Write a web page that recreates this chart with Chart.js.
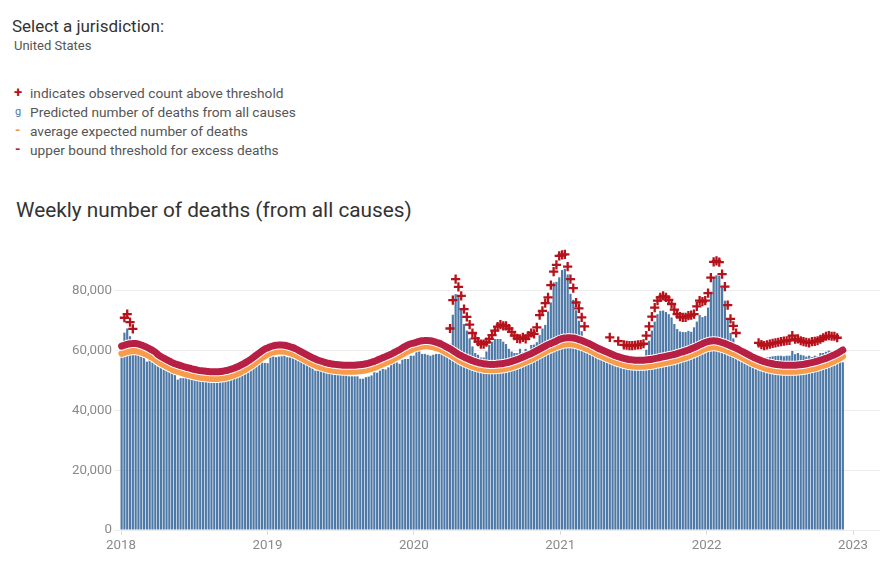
<!DOCTYPE html>
<html><head><meta charset="utf-8">
<script src="https://cdn.jsdelivr.net/npm/chart.js@4.4.0/dist/chart.umd.min.js"></script>
<style>
body{margin:0;width:892px;height:572px;background:#fff;font-family:Roboto,"Noto Sans",sans-serif;position:relative;overflow:hidden}
.t{position:absolute;white-space:nowrap}
#wrap{position:absolute;left:0;top:235px;width:892px;height:337px}
</style></head><body>
<div class="t" style="left:12px;top:15px;font-size:17px;line-height:22px;color:#333">Select a jurisdiction:</div>
<div class="t" style="left:14px;top:37px;font-size:13px;line-height:17px;color:#555">United States</div>
<div class="t" style="left:14px;top:83px;font-size:15px;line-height:19px;color:#b5121b;font-weight:bold">+</div>
<div class="t" style="left:30px;top:83.5px;font-size:13.7px;line-height:19px;color:#555">indicates observed count above threshold</div>
<div class="t" style="left:15px;top:102px;font-size:11px;line-height:19px;color:#4e79a7">g</div>
<div class="t" style="left:30px;top:102.5px;font-size:13.7px;line-height:19px;color:#555">Predicted number of deaths from all causes</div>
<div class="t" style="left:15px;top:121px;font-size:14px;line-height:19px;color:#f89c4b;font-weight:bold">-</div>
<div class="t" style="left:30px;top:121.5px;font-size:13.7px;line-height:19px;color:#555">average expected number of deaths</div>
<div class="t" style="left:15px;top:140px;font-size:14px;line-height:19px;color:#b81f44;font-weight:bold">-</div>
<div class="t" style="left:30px;top:140.5px;font-size:13.7px;line-height:19px;color:#555">upper bound threshold for excess deaths</div>
<div class="t" style="left:16px;top:197px;font-size:20.8px;line-height:26px;color:#333">Weekly number of deaths (from all causes)</div>
<div id="wrap"><canvas id="c" width="892" height="337"></canvas></div>
<script>
// Weekly series, first week ending 2018-01-06, one value per week
const firstWeekEnding = '2018-01-06';
const predictedDeaths = [
61000,66000,67400,64800,62800,59700,59400,58900,57800,56300,57200,56100,55600,54800,54800,53700,53500,53000,52800,52200,
50300,50800,50800,51300,51200,51000,51000,50600,50400,50200,50000,50000,49800,49700,50000,49800,49800,50000,50600,50500,
50800,51300,51700,52400,52600,53000,53700,54500,55600,56700,56500,55900,
55800,58000,58100,57800,58000,58100,58600,57800,57800,57800,57400,56700,56300,55600,55600,55200,54400,53300,53700,53300,
53300,53300,52200,52400,52400,52000,52000,52000,51800,51400,51400,51400,51400,50600,50600,51100,51300,51700,52800,52600,
53300,53900,53700,54400,55600,55900,56100,55600,57000,57200,57200,58300,
58300,59700,60300,58900,58900,58600,58300,58600,58900,58900,59200,58600,59000,62300,72000,78900,78300,73900,68900,66700,
64100,61400,59200,58600,57700,57700,59700,61900,63000,63900,63900,63900,63000,62200,60600,59700,59200,59200,60600,59400,
60600,60100,61900,62000,62800,65200,67400,68600,73100,76100,82800,83000,
84500,87000,87400,85500,79000,77000,73500,70000,66500,64000,62500,61500,61000,60800,60500,60200,59700,59300,60100,58600,
58100,59000,57600,57800,57900,57500,57300,57200,57200,57400,58000,60300,63300,66700,69700,72200,73300,73400,72900,72200,
71100,68900,67200,66400,66200,66200,66600,66300,67800,69700,71900,71200,
71600,74400,79700,84400,85200,85000,81100,76700,70600,65900,64100,61700,60000,59300,58600,57600,56500,55600,55800,58000,
57600,57500,57700,57900,58100,58200,58300,58300,58100,58300,58300,59900,58800,59200,58600,58400,58000,58300,57800,58300,
58200,59200,59200,59600,60000,59800,59800,59500,59000,56100
];
const expectedDeaths = [
59000,59300,59600,59800,59900,59900,59700,59400,59000,58600,58100,57600,57000,56300,55700,55200,54700,54200,53700,53300,
53000,52700,52400,52100,51900,51600,51400,51200,51000,50900,50800,50700,50600,50600,50600,50700,50800,51000,51200,51500,
51800,52200,52600,53100,53600,54200,54800,55500,56200,56900,57600,58200,
58800,59200,59500,59700,59800,59800,59700,59500,59200,58900,58500,58000,57500,57000,56500,56000,55500,55100,54700,54400,
54100,53800,53600,53400,53300,53200,53100,53000,53000,53000,53000,53000,53100,53200,53300,53500,53700,54000,54300,54700,
55100,55500,55900,56300,56700,57200,57700,58200,58800,59300,59800,60200,
60600,60900,61200,61400,61500,61500,61400,61200,60900,60600,60200,59700,59200,58700,58100,57500,56900,56400,55900,55500,
55100,54700,54400,54100,53900,53700,53600,53500,53500,53500,53600,53700,53800,54000,54200,54500,54800,55100,55500,55900,
56300,56700,57100,57600,58100,58600,59100,59600,60100,60500,60900,61300,
61600,61900,62100,62200,62200,62100,61900,61600,61300,60900,60500,60100,59600,59100,58600,58200,57800,57400,57000,56600,
56200,55900,55600,55300,55100,54900,54800,54700,54700,54700,54700,54800,54900,55000,55200,55400,55600,55800,56000,56200,
56400,56600,56900,57200,57500,57800,58100,58500,58900,59300,59800,60200,
60600,60900,61100,61200,61100,60900,60600,60300,59900,59500,59100,58700,58200,57700,57200,56700,56200,55700,55300,54900,
54500,54200,53900,53700,53500,53300,53200,53100,53000,53000,53000,53000,53000,53100,53200,53300,53500,53700,53900,54100,
54400,54700,55000,55300,55700,56100,56500,57000,57500,58100
];
const upperThreshold = [
61500,61800,62100,62300,62400,62400,62200,61900,61500,61100,60600,60100,59500,58600,58000,57500,57000,56500,56000,55600,
55300,55000,54700,54400,54200,53900,53700,53500,53300,53200,53100,53000,52900,52900,52900,53000,53100,53300,53500,53800,
54100,54500,54900,55400,55900,56500,57100,57800,58500,59200,59900,60500,
60900,61300,61600,61800,61900,61900,61800,61600,61300,61000,60600,60100,59600,59100,58600,58100,57600,57200,56800,56500,
56200,55900,55700,55500,55400,55300,55200,55100,55100,55100,55100,55100,55200,55300,55400,55600,55800,56100,56400,56800,
57200,57600,58000,58400,58800,59300,59800,60300,60900,61400,61900,62300,
62500,62800,63100,63300,63400,63400,63300,63100,62800,62500,62100,61600,61100,60600,60000,59400,58800,58300,57800,57400,
57000,56600,56300,56000,55800,55600,55500,55400,55400,55400,55500,55600,55700,55900,56100,56400,56700,57000,57400,57800,
58200,58600,59000,59500,60000,60500,61000,61500,62000,62400,62800,63200,
63700,64000,64200,64300,64300,64200,64000,63700,63400,63000,62600,62200,61700,61200,60700,60300,59900,59500,59100,58700,
58300,58000,57700,57400,57200,57000,56900,56800,56800,56800,56800,56900,57000,57100,57300,57500,57700,57900,58100,58300,
58500,58700,59000,59300,59600,59900,60200,60600,61000,61400,61900,62300,
62700,63000,63200,63300,63200,63000,62700,62400,62000,61600,61200,60800,60300,59800,59300,58800,58300,57800,57400,57000,
56600,56300,56000,55800,55600,55400,55300,55200,55100,55100,55100,55100,55100,55200,55300,55400,55600,55800,56000,56200,
56500,56800,57100,57400,57800,58200,58600,59100,59600,60200
];
// weeks (index into the weekly series) flagged with "+" and the height of each mark
const aboveWeeks = [
1,2,3,4,
117,118,119,120,121,122,123,124,125,126,127,128,129,130,131,132,133,134,135,136,137,138,139,140,141,142,143,144,145,146,
147,148,149,150,151,152,153,154,155,156,157,158,159,160,161,162,163,164,165,
174,177,179,180,181,182,183,184,185,186,
187,188,189,190,191,192,193,194,195,196,197,198,199,200,201,202,203,204,205,206,207,208,209,210,211,212,213,214,215,216,
217,218,219,
227,228,229,230,231,232,233,234,235,236,237,238,239,240,241,242,243,244,245,246,247,248,249,250,251,252,253,254,255
];
const aboveMarks = [
71000,72200,69500,67300,
67400,76900,83900,81300,78300,73900,71300,68700,65900,64100,63000,62200,62200,62800,63900,65200,66700,68000,68700,68300,
68300,67400,66300,65000,64100,63900,64400,63900,65000,65900,65600,67800,71900,73300,75900,77800,81900,86400,88700,91700,
92000,92200,88100,83900,80900,76100,74100,71100,68100,
64400,63200,61900,61800,61700,61700,61800,61900,62000,62300,
65000,68100,71400,74400,76700,77800,78300,77800,77000,75600,73700,72200,71400,71100,71100,71700,71900,72200,74800,76700,
76400,76700,79200,84400,89700,90000,89600,85600,81400,75200,70600,68300,65900,
62600,62000,61700,61900,62200,62400,62600,62800,63000,63200,63300,63400,65000,63800,63900,63300,63000,62800,62600,63000,
63100,63300,63800,64300,64800,65000,64800,64800,64300
];
const yTicks = [0,20000,40000,60000,80000];
const xTickYears = [2018,2019,2020,2021,2022,2023];

const DAY = 864e5;
const t0 = Date.parse(firstWeekEnding + 'T00:00:00Z') - 3.5*DAY;
function weekX(i){
  const t = t0 + i*7*DAY;
  const y = new Date(t).getUTCFullYear();
  const ys = Date.UTC(y,0,1), ye = Date.UTC(y+1,0,1);
  return y + (t-ys)/(ye-ys);
}
const pts = arr => arr.map((v,i)=>({x:weekX(i), y:v}));
const tickFont = {family:'Roboto', size:13.3};

new Chart(document.getElementById('c'), {
  data:{datasets:[
    {type:'line', label:'above', data:aboveWeeks.map((w,k)=>({x:weekX(w), y:aboveMarks[k]})),
     showLine:false, pointStyle:'cross', pointRadius:4.6, pointBorderWidth:2.3,
     pointBorderColor:'#b5121b', pointBackgroundColor:'#b5121b', order:0},
    {type:'line', label:'upper', data:pts(upperThreshold), borderColor:'#b81f44', borderWidth:7,
     pointRadius:0, tension:0.4, borderCapStyle:'round', borderJoinStyle:'round', order:1},
    {type:'line', label:'upperHalo', data:pts(upperThreshold), borderColor:'#ffffff', borderWidth:9,
     pointRadius:0, tension:0.4, borderCapStyle:'round', order:2},
    {type:'line', label:'expected', data:pts(expectedDeaths), borderColor:'#f89c4b', borderWidth:6.5,
     pointRadius:0, tension:0.4, borderCapStyle:'round', borderJoinStyle:'round', order:3},
    {type:'line', label:'expectedHalo', data:pts(expectedDeaths), borderColor:'#ffffff', borderWidth:8.5,
     pointRadius:0, tension:0.4, borderCapStyle:'round', order:4},
    {type:'bar', label:'predicted', data:pts(predictedDeaths), backgroundColor:'#4e79a7',
     barPercentage:0.78, categoryPercentage:1, order:5}
  ]},
  options:{
    responsive:false, animation:false, events:[],
    layout:{padding:{top:5, right:12, left:0, bottom:0}},
    plugins:{legend:{display:false}, tooltip:{enabled:false}},
    scales:{
      x:{type:'linear', min:2017.959, max:2023.184, offset:false,
        afterBuildTicks:s=>{s.ticks = xTickYears.map(v=>({value:v}));},
        afterFit:s=>{s.height = 42;},
        ticks:{callback:v=>String(v), color:'#8a8a8a', font:tickFont, padding:3, maxRotation:0, autoSkip:false},
        grid:{offset:false, drawOnChartArea:false, tickLength:5, color:'#dddddd'},
        border:{display:false}},
      y:{min:0, max:95000,
        afterBuildTicks:s=>{s.ticks = yTicks.map(v=>({value:v}));},
        afterFit:s=>{s.width = 115;},
        ticks:{callback:v=>v.toLocaleString('en-US'), color:'#8a8a8a', font:tickFont, padding:3},
        grid:{color:'#ececec', drawTicks:false},
        border:{display:false}}
    }
  }
});
</script>
</body></html>
